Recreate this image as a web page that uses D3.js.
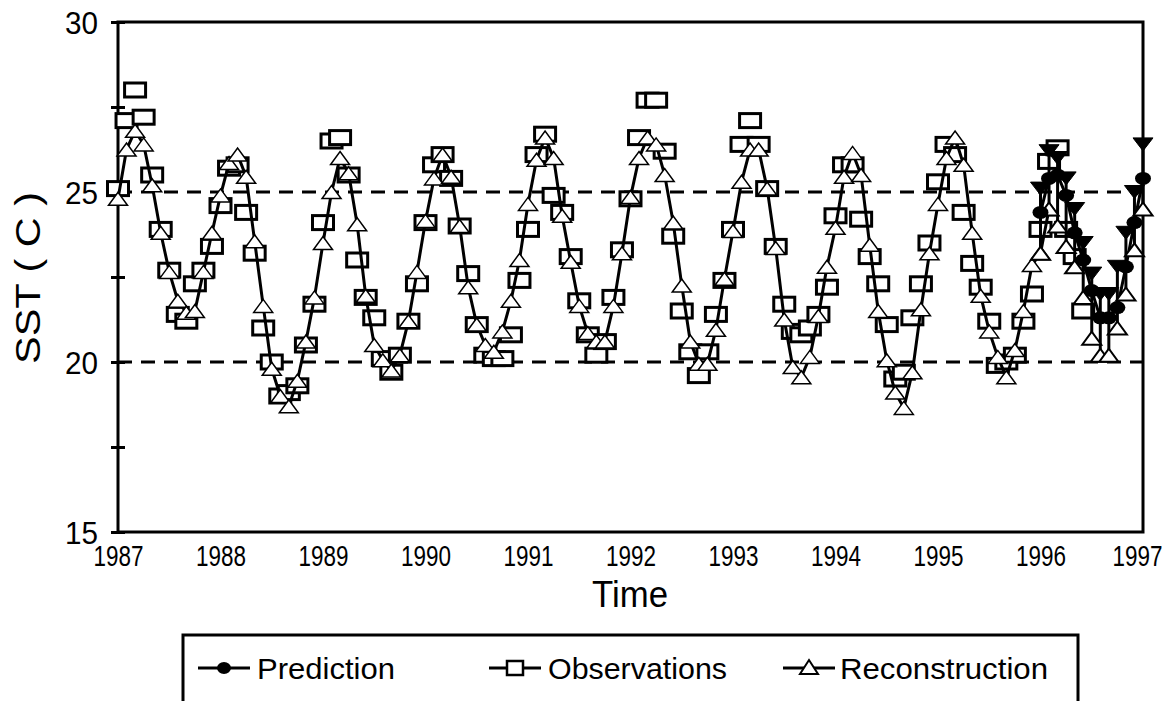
<!DOCTYPE html>
<html><head><meta charset="utf-8">
<script src="https://cdn.jsdelivr.net/npm/d3@7"></script>
<style>
body{margin:0;background:#fff}
svg text{font-family:"Liberation Sans",Arial,sans-serif;fill:#000}
</style>
</head><body>
<svg id="c" width="1174" height="701"></svg>
<script>
// ---- data (monthly, starting January 1987) ----
const startYear = 1987;
const observations = [
 25.1,27.1,28.0,27.2,25.5,23.9,22.7,21.4,21.2,22.3,22.7,23.4,
 24.6,25.7,25.8,24.4,23.2,21.0,20.0,19.0,19.1,19.3,20.5,21.7,
 24.1,26.5,26.6,25.5,23.0,21.9,21.3,20.1,19.7,20.2,21.2,22.3,
 24.1,25.8,26.1,25.4,24.0,22.6,21.1,20.2,20.1,20.1,20.8,22.4,
 23.9,26.1,26.7,24.9,24.4,23.1,21.8,20.8,20.2,20.6,21.9,23.3,
 24.8,26.6,27.7,27.7,26.2,23.7,21.5,20.3,19.6,20.3,21.4,22.4,
 23.9,26.4,27.1,26.4,25.1,23.4,21.7,20.9,20.8,21.0,21.4,22.2,
 24.3,25.8,25.8,24.2,23.1,22.3,21.1,19.5,19.7,21.3,22.3,23.5,
 25.3,26.4,26.1,24.4,22.9,22.2,21.2,19.9,20.0,20.2,21.2,22.0,
 23.9,25.9,26.3,23.9,23.1,21.5
];
const reconstruction = [
 24.8,26.25,26.8,26.4,25.2,23.8,22.65,21.8,21.45,21.5,22.65,23.8,
 24.9,25.85,26.1,25.45,23.55,21.65,19.8,19.0,18.7,19.45,20.6,21.9,
 23.5,25.0,26.0,25.55,24.05,21.95,20.5,20.05,19.75,20.2,21.2,22.65,
 24.15,25.4,26.1,25.45,24.0,22.2,21.1,20.5,20.3,20.9,21.8,23.0,
 24.65,25.95,26.6,26.0,24.3,22.95,21.65,20.85,20.6,20.6,21.65,23.2,
 24.85,26.0,26.6,26.4,25.5,24.1,22.25,20.6,19.95,19.95,20.95,22.45,
 23.85,25.3,26.25,26.25,25.1,23.35,21.25,19.85,19.55,20.15,21.35,22.8,
 23.95,25.45,26.15,25.5,23.45,21.5,20.05,19.1,18.65,19.7,21.55,23.2,
 24.65,26.0,26.6,25.8,23.8,21.95,20.9,20.15,19.55,20.35,21.5,22.85,
 23.2,24.5
];
const predStart = 108; // month index of first prediction (Jan 1996)
const prediction = [24.4,25.4,25.5,24.9,23.8,23.0,22.1,21.3,21.3,21.6,22.8,24.1,25.4];
const predUpper  = [25.1,26.2,26.0,25.4,24.5,23.5,22.6,22.0,22.0,22.8,23.8,25.0,26.4];
const predLower  = [23.2,24.5,24.0,23.4,22.8,21.9,20.7,20.2,20.2,21.0,22.0,23.3,24.5];
const yearTicks = [1987,1988,1989,1990,1991,1992,1993,1994,1995,1996,1997];
const yTickValues = [15,17.5,20,22.5,25,27.5,30];
const yLabelValues = [15,20,25,30];
const refLines = [20,25];
const legendItems = ["Prediction","Observations","Reconstruction"];

// ---- drawing ----
const svg = d3.select("#c");
const L = 118, R = 1143, T = 22, B = 532;
const x = d3.scaleLinear().domain([1987,1997]).range([L,R]);
const y = d3.scaleLinear().domain([15,30]).range([B,T]);
const tOf = i => startYear + i/12;

const triUp = (w,h) => `M${-w/2},${h/2}L${w/2},${h/2}L0,${-h/2}Z`;
const triDown = (w,h) => `M${-w/2},${-h/2}L${w/2},${-h/2}L0,${h/2}Z`;

// reference dashed lines
svg.append("g").selectAll("line").data(refLines).join("line")
  .attr("x1",L).attr("x2",R).attr("y1",d=>y(d)).attr("y2",d=>y(d))
  .attr("stroke","#000").attr("stroke-width",3).attr("stroke-dasharray","14 9");

// plot frame
svg.append("rect").attr("x",L).attr("y",T).attr("width",R-L).attr("height",B-T)
  .attr("fill","none").attr("stroke","#000").attr("stroke-width",3);

// y axis
const yAxis = svg.append("g").attr("transform",`translate(${L},0)`)
  .call(d3.axisLeft(y).tickValues(yTickValues).tickSize(7).tickPadding(13)
    .tickFormat(d => yLabelValues.includes(d) ? d : ""));
yAxis.select(".domain").remove();
yAxis.selectAll(".tick line").attr("x1",7).attr("stroke-width",3);
yAxis.selectAll(".tick text").attr("font-size",32).attr("textLength",33)
  .attr("lengthAdjust","spacingAndGlyphs").attr("dy","0.36em");

// x axis
const xAxis = svg.append("g").attr("transform",`translate(0,${B})`)
  .call(d3.axisBottom(x).tickValues(yearTicks).tickSize(0).tickFormat(d3.format("d")));
xAxis.select(".domain").remove();
xAxis.selectAll(".tick text").attr("font-size",27).attr("y",33).attr("dy",0)
  .attr("textLength",50).attr("lengthAdjust","spacingAndGlyphs")
  .attr("transform","scale(1,1.12)")
  .attr("dx", d => d === 1997 ? -6 : 0);
xAxis.selectAll(".tick text").attr("y",30);

// axis titles
svg.append("text").attr("x",630).attr("y",607).attr("text-anchor","middle")
  .attr("font-size",37).attr("textLength",76).attr("lengthAdjust","spacingAndGlyphs").text("Time");
svg.append("text").attr("transform","translate(40,278) rotate(-90)").attr("text-anchor","middle")
  .attr("font-size",35).attr("textLength",172).attr("lengthAdjust","spacingAndGlyphs").text("SST ( C )");

// observations (open squares)
svg.append("g").selectAll("rect").data(observations).join("rect")
  .attr("x",(d,i)=>x(tOf(i))-10.5).attr("y",d=>y(d)-7).attr("width",21).attr("height",14)
  .attr("fill","#fff").attr("stroke","#000").attr("stroke-width",3);

// reconstruction line + triangles
const line = d3.line().x(d=>x(tOf(d[0]))).y(d=>y(d[1]));
svg.append("path").datum(reconstruction.map((v,i)=>[i,v]))
  .attr("d",line).attr("fill","none").attr("stroke","#000").attr("stroke-width",3);
svg.append("g").selectAll("path").data(reconstruction).join("path")
  .attr("transform",(d,i)=>`translate(${x(tOf(i))},${y(d)})`).attr("d",triUp(19,13))
  .attr("fill","#fff").attr("stroke","#000").attr("stroke-width",1.5);

// prediction with error bars
const pIdx = prediction.map((v,k)=>predStart+k);
const pg = svg.append("g");
pg.selectAll("line.eb").data(pIdx).join("line").attr("class","eb")
  .attr("x1",i=>x(tOf(i))).attr("x2",i=>x(tOf(i)))
  .attr("y1",(i,k)=>y(predUpper[k])).attr("y2",(i,k)=>y(predLower[k]))
  .attr("stroke","#000").attr("stroke-width",3);
pg.append("path").datum(prediction.map((v,k)=>[predStart+k,v]))
  .attr("d",line).attr("fill","none").attr("stroke","#000").attr("stroke-width",3);
pg.selectAll("path.lo").data(predLower).join("path").attr("class","lo")
  .attr("transform",(d,k)=>`translate(${x(tOf(predStart+k))},${y(d)})`).attr("d",triUp(19,13))
  .attr("fill","#fff").attr("stroke","#000").attr("stroke-width",2);
pg.selectAll("path.up").data(predUpper).join("path").attr("class","up")
  .attr("transform",(d,k)=>`translate(${x(tOf(predStart+k))},${y(d)})`).attr("d",triDown(20,13))
  .attr("fill","#000").attr("stroke","#000").attr("stroke-width",1);
pg.selectAll("ellipse").data(prediction).join("ellipse")
  .attr("cx",(d,k)=>x(tOf(predStart+k))).attr("cy",d=>y(d)).attr("rx",8).attr("ry",6.5)
  .attr("fill","#000");

// legend
const lg = svg.append("g");
lg.append("rect").attr("x",183).attr("y",635).attr("width",895).attr("height",100)
  .attr("fill","none").attr("stroke","#000").attr("stroke-width",3);
const lx = [198,489,783], tx = [257,548,840], tw = [138,179,208], ly = 668;
legendItems.forEach((name,k)=>{
  lg.append("line").attr("x1",lx[k]).attr("x2",lx[k]+52).attr("y1",ly).attr("y2",ly)
    .attr("stroke","#000").attr("stroke-width",3);
  const cx = lx[k]+26;
  if(k===0) lg.append("ellipse").attr("cx",cx).attr("cy",ly).attr("rx",7).attr("ry",6).attr("fill","#000");
  if(k===1) lg.append("rect").attr("x",cx-8).attr("y",ly-7).attr("width",16).attr("height",14)
    .attr("fill","#fff").attr("stroke","#000").attr("stroke-width",2.5);
  if(k===2) lg.append("path").attr("transform",`translate(${cx},${ly-1})`).attr("d",triUp(18,14))
    .attr("fill","#fff").attr("stroke","#000").attr("stroke-width",2);
  lg.append("text").attr("x",tx[k]).attr("y",ly+11).attr("font-size",30)
    .attr("textLength",tw[k]).attr("lengthAdjust","spacingAndGlyphs").text(name);
});
</script>
</body></html>
